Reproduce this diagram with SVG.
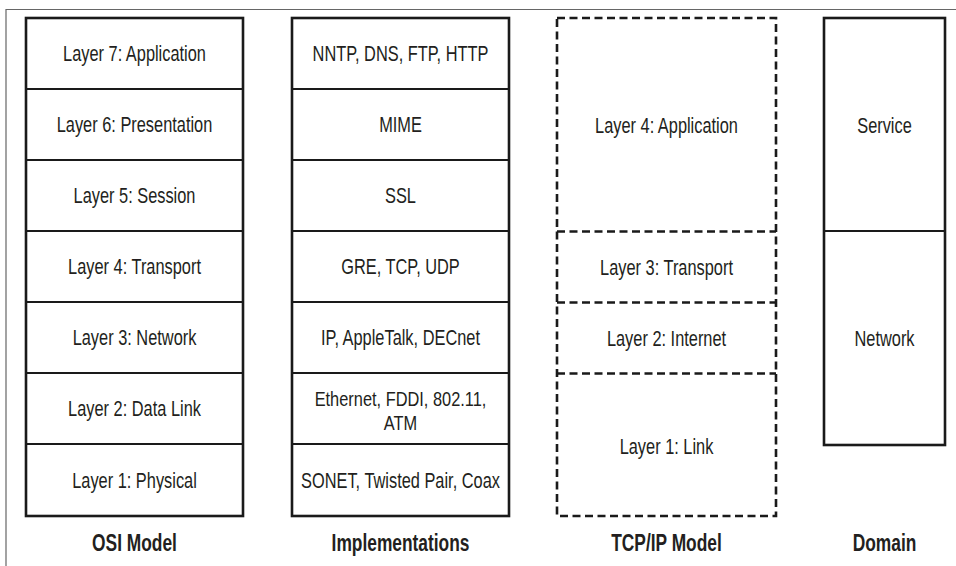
<svg xmlns="http://www.w3.org/2000/svg" width="956" height="566" viewBox="0 0 956 566">
<style>
  .box{fill:#fff;stroke:#1a1a1a;stroke-width:2.6}
  .div{stroke:#1a1a1a;stroke-width:2.2;fill:none}
  .dbox{fill:#fff;stroke:#1a1a1a;stroke-width:2.6;stroke-dasharray:8 4.5}
  .ddiv{stroke:#1a1a1a;stroke-width:2.4;stroke-dasharray:8 4.5;fill:none}
  text{font-family:"Liberation Sans",Arial,sans-serif;font-size:22px;fill:#231f20;text-anchor:middle}
  .sm{font-size:21px}
  .title{font-weight:bold;font-size:23px}
  .frame{stroke:#666;stroke-width:1.2;fill:none}
</style>
<rect width="956" height="566" fill="#fff"/>
<path class="frame" d="M6 566 V9.5 H956"/>

<g id="osi">
  <rect class="box" x="26" y="18" width="217" height="498"/>
  <path class="div" d="M26 89 H243 M26 160 H243 M26 231 H243 M26 302 H243 M26 373 H243 M26 444 H243"/>
  <g id="osi7"><text transform="translate(134.5 61) scale(0.745 1)">Layer 7: Application</text></g>
  <g id="osi6"><text transform="translate(134.5 132) scale(0.745 1)">Layer 6: Presentation</text></g>
  <g id="osi5"><text transform="translate(134.5 203) scale(0.745 1)">Layer 5: Session</text></g>
  <g id="osi4"><text transform="translate(134.5 274) scale(0.745 1)">Layer 4: Transport</text></g>
  <g id="osi3"><text transform="translate(134.5 345) scale(0.745 1)">Layer 3: Network</text></g>
  <g id="osi2"><text transform="translate(134.5 416) scale(0.745 1)">Layer 2: Data Link</text></g>
  <g id="osi1"><text transform="translate(134.5 488) scale(0.745 1)">Layer 1: Physical</text></g>
  <text class="title" transform="translate(134.5 551) scale(0.755 1)">OSI Model</text>
</g>

<g id="impl">
  <rect class="box" x="292" y="18" width="217" height="498"/>
  <path class="div" d="M292 89 H509 M292 160 H509 M292 231 H509 M292 302 H509 M292 373 H509 M292 444 H509"/>
  <g id="impl7"><text transform="translate(400.5 61) scale(0.745 1)">NNTP, DNS, FTP, HTTP</text></g>
  <g id="impl6"><text transform="translate(400.5 132) scale(0.745 1)">MIME</text></g>
  <g id="impl5"><text transform="translate(400.5 203) scale(0.745 1)">SSL</text></g>
  <g id="impl4"><text transform="translate(400.5 274) scale(0.745 1)">GRE, TCP, UDP</text></g>
  <g id="impl3"><text transform="translate(400.5 345) scale(0.745 1)">IP, AppleTalk, DECnet</text></g>
  <g id="impl2"><text class="sm" transform="translate(400.5 406) scale(0.78 1)">Ethernet, FDDI, 802.11,</text><text class="sm" transform="translate(400.5 430) scale(0.78 1)">ATM</text></g>
  <g id="impl1"><text transform="translate(400.5 488) scale(0.745 1)">SONET, Twisted Pair, Coax</text></g>
  <text class="title" transform="translate(400.5 551) scale(0.755 1)">Implementations</text>
</g>

<g id="tcpip">
  <rect class="dbox" x="557" y="18" width="219" height="498"/>
  <path class="ddiv" d="M557 231.5 H776 M557 302.5 H776 M557 373.5 H776"/>
  <g id="tcp4"><text transform="translate(666.5 133) scale(0.745 1)">Layer 4: Application</text></g>
  <g id="tcp3"><text transform="translate(666.5 275) scale(0.745 1)">Layer 3: Transport</text></g>
  <g id="tcp2"><text transform="translate(666.5 346) scale(0.745 1)">Layer 2: Internet</text></g>
  <g id="tcp1"><text transform="translate(666.5 454) scale(0.745 1)">Layer 1: Link</text></g>
  <text class="title" transform="translate(666.5 551) scale(0.755 1)">TCP/IP Model</text>
</g>

<g id="domain">
  <rect class="box" x="824" y="18" width="121" height="427"/>
  <path class="div" d="M824 231 H945"/>
  <g id="service"><text transform="translate(884.5 133) scale(0.745 1)">Service</text></g>
  <g id="network"><text transform="translate(884.5 346) scale(0.745 1)">Network</text></g>
  <text class="title" transform="translate(884.5 551) scale(0.755 1)">Domain</text>
</g>
</svg>
